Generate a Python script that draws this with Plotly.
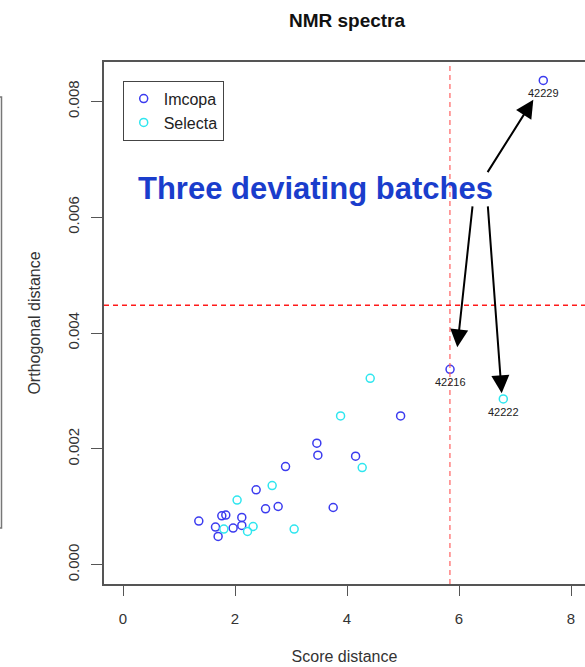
import plotly.graph_objects as go

# ---------------- data ----------------
imcopa_x = [5.84, 7.505, 4.957, 3.461, 3.479, 4.153, 2.902, 2.377, 2.545, 2.770,
            3.753, 1.353, 1.764, 1.835, 2.121, 2.121, 1.966, 1.651, 1.698]
imcopa_y = [0.003374, 0.008362, 0.002569, 0.002098, 0.001891, 0.001874, 0.001695,
            0.001293, 0.000966, 0.001005, 0.000988, 0.000753, 0.000845, 0.000857,
            0.000816, 0.000678, 0.000633, 0.000650, 0.000488]
selecta_x = [6.791, 4.414, 3.885, 4.271, 2.663, 2.037, 1.800, 2.223, 2.323, 3.056]
selecta_y = [0.002862, 0.003219, 0.002569, 0.001678, 0.001367, 0.001116, 0.000616,
             0.000574, 0.000660, 0.000616]

# labelled outlier batches: (series, index, label)
outliers = [("Imcopa", 0, "42216"), ("Imcopa", 1, "42229"), ("Selecta", 0, "42222")]

# critical limits
sd_crit = 5.838
od_crit = 0.00448

# arrows from the text to the outliers
arrow_tail_x = [6.494, 6.244, 6.513]
arrow_tail_y = [0.006753, 0.006212, 0.006212]
arrow_tip_x = [7.327, 5.969, 6.762]
arrow_tip_y = [0.008029, 0.003753, 0.002960]

x_ticks = [0, 2, 4, 6, 8]
y_ticks = [0.000, 0.002, 0.004, 0.006, 0.008]
y_tick_text = ["0.000", "0.002", "0.004", "0.006", "0.008"]

x_range = [-0.34, 8.25]
y_range = [-0.000333, 0.00868]

# ---------------- figure ----------------
W, H = 585, 667
ML, MR, MT, MB = 104, 0, 62, 83
FONT = "Liberation Sans, Arial, sans-serif"
BLUE = "#3b3bef"
CYAN = "#2fe6ef"

fig = go.Figure()
fig.add_trace(go.Scatter(x=imcopa_x, y=imcopa_y, mode="markers", name="Imcopa",
                         marker=dict(symbol="circle-open", size=8, color=BLUE,
                                     line=dict(width=1.5, color=BLUE))))
fig.add_trace(go.Scatter(x=selecta_x, y=selecta_y, mode="markers", name="Selecta",
                         marker=dict(symbol="circle-open", size=8, color=CYAN,
                                     line=dict(width=1.5, color=CYAN))))

series = {"Imcopa": (imcopa_x, imcopa_y), "Selecta": (selecta_x, selecta_y)}
annotations = []
for s, i, lab in outliers:
    xs, ys = series[s]
    annotations.append(dict(x=xs[i], y=ys[i], xref="x", yref="y", text=lab,
                            showarrow=False, yshift=-13,
                            font=dict(family=FONT, size=11, color="#222")))
for tx, ty, hx, hy in zip(arrow_tail_x, arrow_tail_y, arrow_tip_x, arrow_tip_y):
    annotations.append(dict(x=hx, y=hy, ax=tx, ay=ty, xref="x", yref="y",
                            axref="x", ayref="y", text="", showarrow=True,
                            arrowhead=2, arrowsize=1.8, arrowwidth=2,
                            arrowcolor="black", standoff=0, startstandoff=0))
annotations.append(dict(x=3.44, y=0.0065, xref="x", yref="y",
                        text="<b>Three deviating batches</b>", showarrow=False,
                        font=dict(family=FONT, size=31, color="#1a3dcc")))

# helpers for pixel -> paper (decorations only)
pw = W - ML - MR
ph = H - MT - MB
def px_x(p):
    return (p - ML) / pw
def px_y(p):
    return 1 - (p - MT) / ph

shapes = [
    dict(type="line", xref="x", yref="paper", x0=sd_crit, x1=sd_crit, y0=0, y1=1,
         line=dict(color="#ff6060", width=1.2, dash="5px,4px")),
    dict(type="line", xref="paper", yref="y", x0=0, x1=1, y0=od_crit, y1=od_crit,
         line=dict(color="#ff1a1a", width=1.3, dash="5px,4px")),
    # edge of neighbouring panel
    dict(type="rect", xref="paper", yref="paper", x0=px_x(-20), x1=px_x(1.5),
         y0=px_y(528), y1=px_y(97), line=dict(color="#777", width=1.5)),
]

fig.update_layout(
    width=W, height=H,
    margin=dict(l=ML, r=MR, t=MT, b=MB),
    paper_bgcolor="white", plot_bgcolor="white",
    font=dict(family=FONT, color="#333"),
    title=dict(text="<b>NMR spectra</b>", x=347 / W, xref="container",
               xanchor="center", y=1 - 20 / H, yanchor="middle",
               font=dict(family=FONT, size=19, color="#111")),
    showlegend=True,
    legend=dict(x=px_x(122.7), y=px_y(80.7), xanchor="left", yanchor="top",
                bgcolor="white", bordercolor="#444", borderwidth=1,
                font=dict(family=FONT, size=16, color="#222"),
                itemwidth=30, tracegroupgap=0),
    annotations=annotations,
    shapes=shapes,
    xaxis=dict(range=x_range, tickvals=x_ticks, ticks="outside", ticklen=10,
               tickcolor="#555", tickwidth=1.2, showline=True, linecolor="#555",
               linewidth=1.5, mirror=True, showgrid=False, zeroline=False,
               tickfont=dict(family=FONT, size=15, color="#333"),
               ticklabelstandoff=10,
               title=dict(text="Score distance", standoff=25,
                          font=dict(family=FONT, size=16, color="#333"))),
    yaxis=dict(range=y_range, tickvals=y_ticks, ticktext=y_tick_text, ticks="outside",
               ticklen=11, tickcolor="#555", tickwidth=1.2, showline=True,
               linecolor="#555", linewidth=1.5, mirror=False, showgrid=False,
               zeroline=False, tickangle=-90,
               tickfont=dict(family=FONT, size=15, color="#333"),
               ticklabelstandoff=6,
               title=dict(text="Orthogonal distance", standoff=21,
                          font=dict(family=FONT, size=16, color="#333"))),
)

fig.write_html("out.html")
